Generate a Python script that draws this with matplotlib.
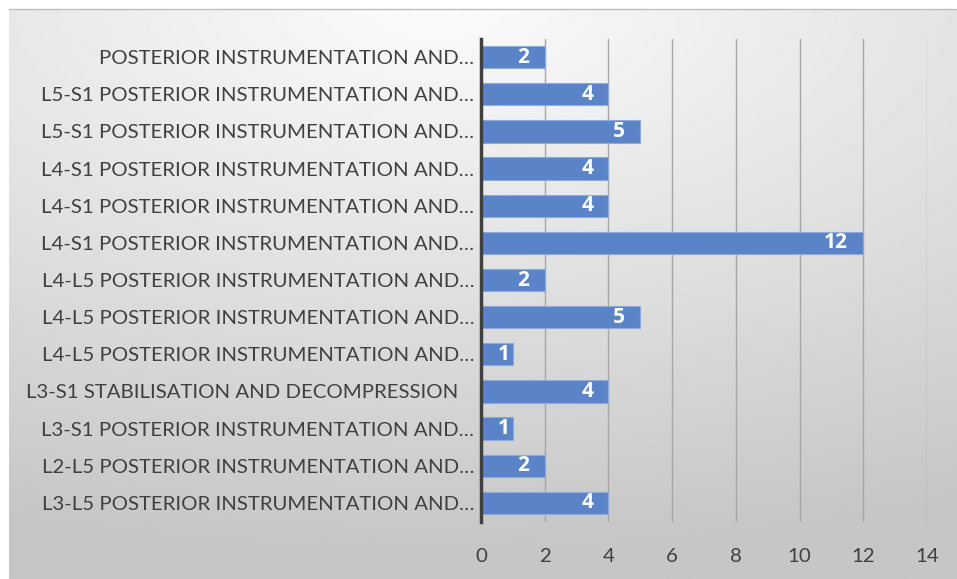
import numpy as np
import matplotlib.pyplot as plt

procedures = [
    'POSTERIOR INSTRUMENTATION AND\u2026',
    'L5-S1 POSTERIOR INSTRUMENTATION AND\u2026',
    'L5-S1 POSTERIOR INSTRUMENTATION AND\u2026',
    'L4-S1 POSTERIOR INSTRUMENTATION AND\u2026',
    'L4-S1 POSTERIOR INSTRUMENTATION AND\u2026',
    'L4-S1 POSTERIOR INSTRUMENTATION AND\u2026',
    'L4-L5 POSTERIOR INSTRUMENTATION AND\u2026',
    'L4-L5 POSTERIOR INSTRUMENTATION AND\u2026',
    'L4-L5 POSTERIOR INSTRUMENTATION AND\u2026',
    'L3-S1 STABILISATION AND DECOMPRESSION   ',
    'L3-S1 POSTERIOR INSTRUMENTATION AND\u2026',
    'L2-L5 POSTERIOR INSTRUMENTATION AND\u2026',
    'L3-L5 POSTERIOR INSTRUMENTATION AND\u2026',
]
counts = [2, 4, 5, 4, 4, 12, 2, 5, 1, 4, 1, 2, 4]
xticks = [0, 2, 4, 6, 8, 10, 12, 14]

plt.rcParams['font.family'] = ['Lato', 'DejaVu Sans']

W, H = 957, 579
fig = plt.figure(figsize=(W / 100, H / 100), dpi=100, facecolor='white')

# grey radial background of the chart area
bg = fig.add_axes([9 / W, 0, 1 - 9 / W, 1 - 9 / H])
gx, gy = np.meshgrid(np.linspace(0, 1, 400), np.linspace(0, 1, 250))
r = np.sqrt(((gx - 0.45) * 1.0) ** 2 + ((gy - 0.0) * 1.3) ** 2)
r = np.clip(r / 1.25, 0, 1)
shade = 0.985 - 0.21 * r
bg.imshow(shade, cmap='gray', vmin=0, vmax=1, aspect='auto',
          extent=[0, 1, 1, 0], interpolation='bilinear')
bg.set_axis_off()
fig.add_artist(plt.Line2D([9 / W, 1], [1 - 9 / H, 1 - 9 / H],
                          color='#bfbfbf', lw=1, transform=fig.transFigure))

ax = fig.add_axes([481 / W, 1 - 521.5 / H, (927 - 481) / W, (521.5 - 38.5) / H])
ax.patch.set_alpha(0)
y = np.arange(len(procedures))
ax.barh(y, counts, height=0.6, color='#5b84c8', edgecolor='#8eaadb',
        linewidth=0.8, zorder=3)
for yi, v in zip(y, counts):
    off = -11 if v > 1 else -2.5
    ax.annotate(str(v), (v, yi), xytext=(off, 0), textcoords='offset points',
                ha='right', va='center', color='white', fontsize=15,
                fontweight='bold', family='Open Sans', zorder=4)

ax.set_ylim(len(procedures) - 0.5, -0.5)
ax.set_xlim(0, 14)
ax.set_yticks(y)
ax.set_yticklabels(procedures, fontsize=14.7, color='#404040')
ax.set_xticks(xticks)
ax.set_xticklabels([str(t) for t in xticks], fontsize=14.7, color='#404040')
ax.tick_params(axis='both', length=0)
ax.tick_params(axis='y', pad=5)
ax.tick_params(axis='x', pad=19)
ax.grid(axis='x', color='#a6a6a6', lw=1, zorder=0)
for s in ['top', 'right', 'bottom']:
    ax.spines[s].set_visible(False)
ax.spines['left'].set_color('#404040')
ax.spines['left'].set_linewidth(2.5)
ax.spines['left'].set_zorder(5)

fig.savefig('out.png', dpi=100, facecolor='white')
